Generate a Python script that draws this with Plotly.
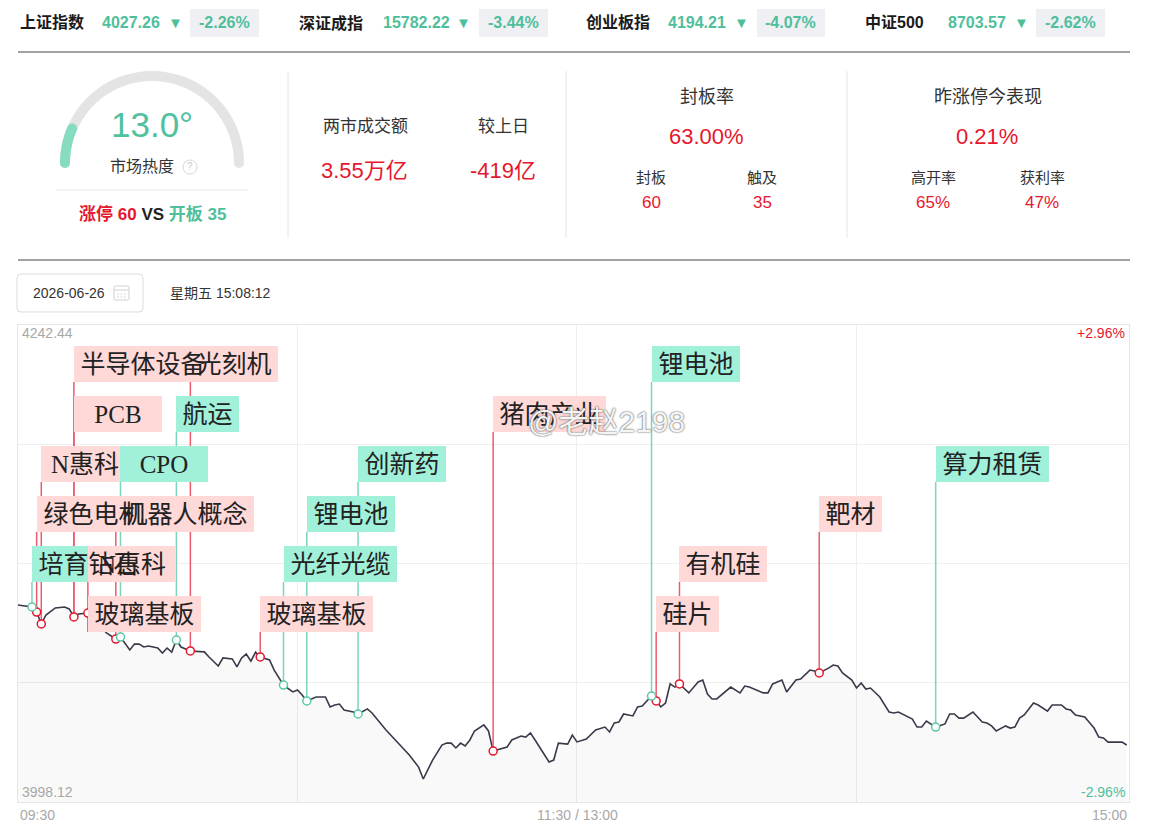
import math
import plotly.graph_objects as go

W, H = 1160, 838

# ---------------- data ----------------
index_names = ["上证指数", "深证成指", "创业板指", "中证500"]
index_values = ["4027.26", "15782.22", "4194.21", "8703.57"]
index_changes = ["-2.26%", "-3.44%", "-4.07%", "-2.62%"]

heat_degree = 13.0
heat_label = "市场热度"
limit_up_count = 60
opened_count = 35
turnover_label, turnover_value = "两市成交额", "3.55万亿"
diff_label, diff_value = "较上日", "-419亿"
seal_title, seal_rate = "封板率", "63.00%"
seal_items = ["封板", "触及"]
seal_values = ["60", "35"]
perf_title, perf_value = "昨涨停今表现", "0.21%"
perf_items = ["高开率", "获利率"]
perf_values = ["65%", "47%"]

trade_date = "2026-06-26"
trade_time = "星期五 15:08:12"

price_high, price_low = 4242.44, 3998.12
pct_high, pct_low = "+2.96%", "-2.96%"
time_ticks = ["09:30", "11:30 / 13:00", "15:00"]

minutes = [0, 3, 4, 5, 6, 8, 10, 11, 12, 13,
           15, 19, 21, 22, 24, 25, 26, 27, 28, 30,
           31, 32, 33, 34, 35, 37, 40, 41, 43, 44,
           46, 47, 48, 49, 50, 51, 52, 54, 55, 56,
           57, 59, 60, 61, 62, 64, 66, 67, 68, 69,
           70, 72, 73, 75, 76, 79, 82, 84, 86, 87,
           89, 91, 92, 93, 94, 95, 96, 97, 98, 100,
           101, 102, 105, 106, 107, 108, 109, 110, 111, 113,
           114, 115, 116, 118, 119, 120, 122, 124, 126, 127,
           128, 129, 130, 132, 133, 134, 136, 137, 138, 139,
           140, 141, 142, 144, 146, 147, 148, 149, 150, 153,
           155, 156, 157, 160, 161, 162, 164, 165, 167, 168,
           170, 171, 172, 174, 175, 176, 177, 179, 180, 181,
           182, 183, 185, 187, 188, 189, 191, 192, 193, 194,
           195, 197, 199, 200, 201, 202, 203, 205, 207, 208,
           209, 210, 212, 213, 214, 215, 216, 218, 219, 221,
           222, 224, 225, 226, 227, 229, 231, 232, 233, 234,
           237, 238]

prices = [4099.0, 4098.0, 4095.4, 4089.3, 4093.9, 4097.5, 4098.0, 4097.0, 4092.9, 4094.4,
          4094.9, 4084.7, 4081.6, 4082.6, 4076.0, 4079.0, 4079.0, 4077.5, 4078.0, 4077.0,
          4074.4, 4077.0, 4074.9, 4081.1, 4077.5, 4075.5, 4075.0, 4072.4, 4067.8, 4071.9,
          4071.4, 4067.3, 4071.9, 4073.9, 4070.3, 4074.9, 4072.4, 4070.9, 4065.7, 4062.1,
          4058.0, 4054.5, 4055.5, 4052.9, 4049.9, 4051.9, 4051.9, 4046.8, 4047.8, 4048.3,
          4045.2, 4044.2, 4043.2, 4045.8, 4043.7, 4035.0, 4027.3, 4022.2, 4016.0, 4009.9,
          4019.6, 4027.3, 4028.3, 4028.3, 4025.8, 4028.3, 4026.8, 4029.9, 4034.5, 4037.6,
          4034.5, 4024.2, 4026.3, 4029.9, 4030.9, 4031.9, 4031.4, 4033.5, 4029.9, 4022.2,
          4018.6, 4019.6, 4028.3, 4027.8, 4032.4, 4028.9, 4030.4, 4035.0, 4036.5, 4034.0,
          4038.6, 4039.1, 4043.2, 4042.2, 4046.8, 4047.3, 4052.4, 4049.9, 4046.8, 4048.8,
          4058.6, 4057.0, 4058.6, 4054.0, 4059.6, 4060.6, 4053.4, 4050.9, 4050.9, 4057.0,
          4054.0, 4057.5, 4057.0, 4054.0, 4054.0, 4058.6, 4060.6, 4054.5, 4060.6, 4061.1,
          4065.7, 4065.2, 4064.2, 4066.7, 4068.3, 4067.8, 4064.2, 4060.6, 4056.5, 4059.1,
          4056.0, 4056.5, 4051.9, 4044.2, 4043.7, 4044.2, 4041.7, 4040.6, 4036.5, 4036.5,
          4039.6, 4036.5, 4038.1, 4043.2, 4043.2, 4041.1, 4041.1, 4044.2, 4039.1, 4038.6,
          4037.1, 4034.5, 4037.1, 4036.0, 4036.5, 4041.1, 4042.7, 4048.8, 4047.8, 4044.7,
          4047.8, 4047.8, 4045.8, 4045.2, 4042.7, 4041.7, 4036.0, 4031.4, 4030.9, 4028.8,
          4028.8, 4027.3]

event_names = ["培育钻石", "绿色电机", "N惠科", "半导体设备", "PCB", "N惠科", "玻璃基板",
               "机器人概念", "CPO", "航运", "光刻机", "玻璃基板", "光纤光缆", "锂电池",
               "创新药", "猪肉产业", "锂电池", "硅片", "有机硅", "靶材", "算力租赁"]
event_dirs = ["down", "up", "up", "up", "up", "up", "up",
              "up", "down", "down", "up", "up", "down", "down",
              "down", "up", "down", "up", "up", "up", "down"]
event_minutes = [3, 4, 5, 12, 12, 15, 15, 21, 22, 34, 37, 52, 57, 62, 73, 102, 136, 137, 142, 172, 197]
event_rows = [5, 4, 3, 1, 2, 5, 6, 4, 3, 2, 1, 6, 5, 4, 3, 2, 1, 6, 5, 4, 3]

watermark = "@老赵2198"

assert len(minutes) == len(prices)

# ---------------- styles ----------------
SANS = "Liberation Sans, Noto Sans CJK SC, sans-serif"
LABEL_FONT = "Liberation Serif, Noto Sans CJK SC, serif"
RED = "#e5172d"
TEAL = "#4fbf9b"
DARK = "#222222"
GRAY_TXT = "#a8a8a8"

PLOT_L, PLOT_R, PLOT_T, PLOT_B = 18, 1129, 325, 802
X_MAX = 238.5


def PX(x):
    return x / W


def PY(y):
    return 1 - y / H


def y_data(py):
    return price_high - (py - PLOT_T) / (PLOT_B - PLOT_T) * (price_high - price_low)


annotations = []
shapes = []


def txt(s, x, y, size, color, bold=False, xanchor="center", family=SANS, **kw):
    annotations.append(dict(
        text=f"<b>{s}</b>" if bold else s, x=PX(x), y=PY(y), xref="paper", yref="paper",
        xanchor=xanchor, yanchor="middle", showarrow=False,
        font=dict(size=size, color=color, family=family), **kw))


def hline(x0, x1, y, color, width=1):
    shapes.append(dict(type="line", xref="paper", yref="paper", x0=PX(x0), x1=PX(x1),
                       y0=PY(y), y1=PY(y), line=dict(color=color, width=width)))


def vline(x, y0, y1, color, width=1):
    shapes.append(dict(type="line", xref="paper", yref="paper", x0=PX(x), x1=PX(x),
                       y0=PY(y0), y1=PY(y1), line=dict(color=color, width=width)))


def rect(x0, y0, x1, y1, fill, line_color=None, width=0):
    shapes.append(dict(type="rect", xref="paper", yref="paper", x0=PX(x0), x1=PX(x1),
                       y0=PY(y1), y1=PY(y0), fillcolor=fill,
                       line=dict(color=line_color or fill, width=width)))


def circle(cx, cy, r, fill, line_color=None, width=0):
    shapes.append(dict(type="circle", xref="paper", yref="paper",
                       x0=PX(cx - r), x1=PX(cx + r), y0=PY(cy + r), y1=PY(cy - r),
                       fillcolor=fill, line=dict(color=line_color or fill, width=width)))


def rrect(x0, y0, x1, y1, r, fill, line_color, width=1):
    def p(x, y):
        return f"{PX(x):.6f},{PY(y):.6f}"
    path = (f"M {p(x0 + r, y0)} L {p(x1 - r, y0)} Q {p(x1, y0)} {p(x1, y0 + r)} "
            f"L {p(x1, y1 - r)} Q {p(x1, y1)} {p(x1 - r, y1)} L {p(x0 + r, y1)} "
            f"Q {p(x0, y1)} {p(x0, y1 - r)} L {p(x0, y0 + r)} Q {p(x0, y0)} {p(x0 + r, y0)} Z")
    shapes.append(dict(type="path", xref="paper", yref="paper", path=path,
                       fillcolor=fill, line=dict(color=line_color, width=width)))


def arc(cx, cy, r, a0, a1, color, width):
    n = 60
    pts = []
    for i in range(n + 1):
        a = math.radians(a0 + (a1 - a0) * i / n)
        pts.append(f"{PX(cx + r * math.cos(a)):.6f},{PY(cy - r * math.sin(a)):.6f}")
    shapes.append(dict(type="path", xref="paper", yref="paper",
                       path="M " + " L ".join(pts), line=dict(color=color, width=width)))
    for a in (a0, a1):
        ar = math.radians(a)
        circle(cx + r * math.cos(ar), cy - r * math.sin(ar), width / 2, color)


# ---------------- header: indices ----------------
name_x = [18, 297, 584, 863]
val_x = [100, 381, 666, 946]
tri_x = [175, 463, 741, 1021]
box_x = [(190, 259), (479, 548), (757, 825), (1036, 1105)]
for i in range(4):
    txt(index_names[i], name_x[i], 23, 16, "#1a1a1a", bold=True, xanchor="left")
    txt(index_values[i], val_x[i], 23, 16, TEAL, bold=True, xanchor="left")
    txt("▼", tri_x[i], 23, 15, TEAL)
    rect(box_x[i][0], 9, box_x[i][1], 37, "#eff0f4")
    txt(index_changes[i], (box_x[i][0] + box_x[i][1]) / 2, 23, 16, TEAL, bold=True)

hline(18, 1130, 52, "#444444", 1)
hline(18, 1130, 260, "#444444", 1)

# ---------------- gauge ----------------
gcx, gcy, gr = 152, 163, 87
arc(gcx, gcy, gr, 180, 0, "#e4e4e4", 10)
arc(gcx, gcy, gr, 180, 180 - heat_degree / 100 * 180, "#86dcc1", 10)
txt(f"{heat_degree:.1f}°", 152, 125, 35, "#4fc19e")
txt(heat_label, 142, 167, 16, "#333333")
circle(190, 167, 7, "rgba(0,0,0,0)", "#d6d6d6", 1)
txt("?", 190, 167, 10, "#c8c8c8")
hline(56, 248, 190, "#e8e8e8", 1)
annotations.append(dict(
    text=(f'<b><span style="color:{RED}">涨停 {limit_up_count}</span> '
          f'<span style="color:{DARK}">VS</span> '
          f'<span style="color:{TEAL}">开板 {opened_count}</span></b>'),
    x=PX(152), y=PY(214), xref="paper", yref="paper", xanchor="center", yanchor="middle",
    showarrow=False, font=dict(size=17, family=SANS)))

for dx in (288, 566, 847):
    vline(dx, 71, 238, "#e6e6e6", 1)

# ---------------- turnover ----------------
txt(turnover_label, 365, 127, 17, "#333333")
txt(diff_label, 503, 127, 17, "#333333")
txt(turnover_value, 364, 170, 22, RED)
txt(diff_value, 503, 170, 22, RED)

# ---------------- seal rate ----------------
txt(seal_title, 707, 97, 18, "#333333")
txt(seal_rate, 706, 136, 22, RED)
for k, cx in enumerate((651, 762)):
    txt(seal_items[k], cx, 177, 15, "#333333")
    txt(seal_values[k], cx, 203, 17, RED)

# ---------------- yesterday limit-up performance ----------------
txt(perf_title, 988, 97, 18, "#333333")
txt(perf_value, 987, 136, 22, RED)
for k, cx in enumerate((933, 1042)):
    txt(perf_items[k], cx, 177, 15, "#333333")
    txt(perf_values[k], cx, 203, 17, RED)

# ---------------- date bar ----------------
rrect(17, 274, 143, 312, 4, "white", "#dcdcdc", 1)
txt(trade_date, 31, 293, 14, "#333333", xanchor="left")
rrect(114, 286, 129, 300, 1.5, "rgba(0,0,0,0)", "#cfcfcf", 1)
hline(114, 129, 290, "#cfcfcf", 1)
for tx in (118, 121.5, 125):
    hline(tx - 0.8, tx + 0.8, 294, "#cfcfcf", 1)
    hline(tx - 0.8, tx + 0.8, 297, "#cfcfcf", 1)
txt(trade_time, 168, 293, 14, "#333333", xanchor="left")

# ---------------- intraday chart ----------------
fig = go.Figure()
fig.add_trace(go.Scatter(
    x=minutes, y=prices, mode="lines", line=dict(color="#383a4a", width=1.6),
    fill="tozeroy", fillcolor="rgba(0,0,0,0.022)", hoverinfo="skip"))

price_at = dict(zip(minutes, prices))
ROW_TOP0, ROW_STEP, BOX_H = 346, 50, 36
FONT_PX = 25

conn_col = {"up": "#ec5a6e", "down": "#7dd4bb"}
mark_col = {"up": RED, "down": "#5cc8a6"}
bg_col = {"up": "#ffd8d8", "down": "#a0f0da"}

for d in ("up", "down"):
    xs, ys = [], []
    for name, dd, m, row in zip(event_names, event_dirs, event_minutes, event_rows):
        if dd != d:
            continue
        bottom = ROW_TOP0 + (row - 1) * ROW_STEP + BOX_H
        xs += [m, m, None]
        ys += [y_data(bottom), price_at[m], None]
    fig.add_trace(go.Scatter(x=xs, y=ys, mode="lines", line=dict(color=conn_col[d], width=1.5),
                             hoverinfo="skip"))

for d in ("up", "down"):
    ms = sorted({m for dd, m in zip(event_dirs, event_minutes) if dd == d})
    fig.add_trace(go.Scatter(
        x=ms, y=[price_at[m] for m in ms], mode="markers",
        marker=dict(symbol="circle", size=8, color="white", line=dict(color=mark_col[d], width=1.5)),
        hoverinfo="skip"))

label_boxes = []
label_texts = []
for name, d, m, row in zip(event_names, event_dirs, event_minutes, event_rows):
    cy = ROW_TOP0 + (row - 1) * ROW_STEP + BOX_H / 2
    base = dict(text=name, x=m, y=PY(cy), xref="x", yref="paper", xanchor="left",
                yanchor="middle", showarrow=False, width=len(name) * FONT_PX + 13, height=BOX_H,
                borderpad=0, borderwidth=0, align="center", valign="middle")
    label_boxes.append(dict(base, bgcolor=bg_col[d],
                            font=dict(size=FONT_PX, family=LABEL_FONT, color="rgba(0,0,0,0)")))
    label_texts.append(dict(base, bgcolor="rgba(0,0,0,0)",
                            font=dict(size=FONT_PX, family=LABEL_FONT, color=DARK)))
annotations += label_boxes + label_texts

# axis corner labels
txt(f"{price_high:.2f}", 20, 333, 14, GRAY_TXT, xanchor="left")
txt(f"{price_low:.2f}", 20, 792, 14, GRAY_TXT, xanchor="left")
txt(pct_high, 1127, 333, 14, RED, xanchor="right")
txt(pct_low, 1127, 792, 14, TEAL, xanchor="right")
txt(time_ticks[0], 18, 815, 14, GRAY_TXT, xanchor="left")
txt(time_ticks[1], 577, 815, 14, GRAY_TXT)
txt(time_ticks[2], 1129, 815, 14, GRAY_TXT, xanchor="right")

# watermark
txt(watermark, 606, 421, 30, "rgba(255,255,255,0.96)",
    family="Liberation Sans, Noto Sans CJK SC")
annotations[-1]["font"]["shadow"] = "0px 0px 2px #555555, 0px 0px 1px #777777"

step = (price_high - price_low) / 4
fig.update_layout(
    width=W, height=H, margin=dict(l=0, r=0, t=0, b=0),
    paper_bgcolor="white", plot_bgcolor="white", showlegend=False,
    xaxis=dict(domain=[PLOT_L / W, PLOT_R / W], range=[0, X_MAX], tickvals=[60, 120, 180],
               showticklabels=False, showgrid=True, gridcolor="#eeeeee", zeroline=False,
               showline=True, linecolor="#e6e6e6", mirror=True, ticks="", fixedrange=True),
    yaxis=dict(domain=[1 - PLOT_B / H, 1 - PLOT_T / H], range=[price_low, price_high],
               tickvals=[price_low + step * k for k in (1, 2, 3)], showticklabels=False,
               showgrid=True, gridcolor="#eeeeee", zeroline=False, showline=True,
               linecolor="#e6e6e6", mirror=True, ticks="", fixedrange=True),
    annotations=annotations, shapes=shapes,
)

fig.write_html("out.html")
